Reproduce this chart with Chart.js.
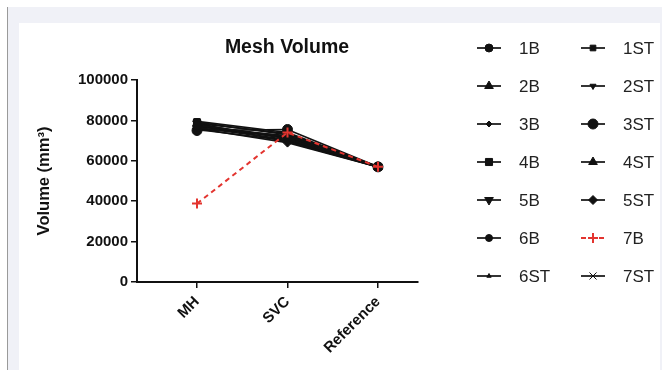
<!DOCTYPE html>
<html>
<head>
<meta charset="utf-8">
<script src="https://cdn.jsdelivr.net/npm/chart.js@4.4.1/dist/chart.umd.min.js"></script>
<style>
  body { margin: 0; background: #fff; }
  #wrap { position: relative; width: 662px; height: 370px; overflow: hidden; }
  #edge { position: absolute; left: 7px; top: 7px; width: 1px; height: 363px; background: #9a9a9a; }
  #grey { position: absolute; left: 8px; top: 7px; width: 654px; height: 363px; background: #f0f1f7; }
  #panel { position: absolute; left: 19px; top: 23px; width: 641px; height: 347px; background: #fff; }
  #chart { position: absolute; left: 0; top: 0; }
</style>
</head>
<body>
<div id="wrap">
  <div id="grey"></div>
  <div id="edge"></div>
  <div id="panel"></div>
  <canvas id="chart" width="662" height="370"></canvas>
</div>
<script>
// categories and ticks
var categories = ['MH', 'SVC', 'Reference'];
var yTicks = [0, 20000, 40000, 60000, 80000, 100000];

// mesh volume per series, in order MH, SVC, Reference
var v1B  = [77500, 72000, 57000];
var v2B  = [78000, 71000, 57000];
var v3B  = [76500, 70500, 57000];
var v4B  = [79000, 73000, 57000];
var v5B  = [78500, 69500, 57000];
var v6B  = [76000, 72500, 57000];
var v6ST = [75500, 70000, 57000];
var v1ST = [79500, 74000, 57000];
var v2ST = [77000, 71500, 57000];
var v3ST = [75000, 75500, 57000];
var v4ST = [78500, 73500, 57000];
var v5ST = [76000, 69000, 57000];
var v7B  = [38800, 74000, 57000];
var v7ST = [77000, 72000, 57000];

var seriesNames = ['1B', '2B', '3B', '4B', '5B', '6B', '6ST', '1ST', '2ST', '3ST', '4ST', '5ST', '7B', '7ST'];
var seriesValues = [v1B, v2B, v3B, v4B, v5B, v6B, v6ST, v1ST, v2ST, v3ST, v4ST, v5ST, v7B, v7ST];

// marker look for each series
var markers = [
	{ style: 'circle', r: 4 },
	{ style: 'triangle', r: 5 },
	{ style: 'rectRot', r: 3 },
	{ style: 'rect', r: 5 },
	{ style: 'triangle', r: 5, rot: 180 },
	{ style: 'circle', r: 3.5 },
	{ style: 'triangle', r: 2.5 },
	{ style: 'rect', r: 4 },
	{ style: 'triangle', r: 3.5, rot: 180 },
	{ style: 'circle', r: 5 },
	{ style: 'triangle', r: 5 },
	{ style: 'rectRot', r: 4.5 },
	{ style: 'cross', r: 5, red: true },
	{ style: 'crossRot', r: 5 }
];

var FONT = "'Liberation Sans', Arial, sans-serif";
var INK = '#111';
var RED = '#e3342f';

var datasets = seriesNames.map(function(name, i){
	var m = markers[i];
	var col = m.red ? RED : INK;
	return {
		label: name,
		data: seriesValues[i].map(function(v, j){ return { x: j, y: v }; }),
		borderColor: col,
		backgroundColor: col,
		borderWidth: m.red ? 2 : 1.7,
		borderDash: m.red ? [5, 4] : [],
		pointStyle: m.style,
		pointRadius: m.r,
		pointRotation: m.rot || 0,
		pointBorderWidth: m.red ? 2 : 1,
		order: m.red ? -1 : 0,
		tension: 0
	};
});

// title and two-column legend drawn next to the plot
var sidePlugin = {
	id: 'side',
	afterDraw: function(chart){
		var ctx = chart.ctx;
		ctx.save();
		ctx.fillStyle = INK;
		ctx.font = 'bold 19.5px ' + FONT;
		ctx.textAlign = 'center';
		ctx.textBaseline = 'middle';
		ctx.fillText('Mesh Volume', 287, 48);

		ctx.font = '17px ' + FONT;
		ctx.textAlign = 'left';
		chart.data.datasets.forEach(function(ds, i){
			var col = Math.floor(i / 7), row = i % 7;
			var cx = col ? 593 : 489;
			var cy = 48 + row * 38;
			ctx.strokeStyle = ds.borderColor;
			ctx.fillStyle = ds.backgroundColor;
			ctx.lineWidth = ds.borderWidth;
			ctx.setLineDash(ds.borderDash);
			ctx.beginPath();
			ctx.moveTo(cx - 12, cy);
			ctx.lineTo(cx + 12, cy);
			ctx.stroke();
			ctx.setLineDash([]);
			ctx.lineWidth = ds.pointBorderWidth;
			Chart.helpers.drawPoint(ctx, {
				pointStyle: ds.pointStyle,
				rotation: ds.pointRotation,
				radius: ds.pointRadius,
				borderWidth: ds.pointBorderWidth
			}, cx, cy);
			ctx.fillStyle = '#222';
			ctx.fillText(ds.label, cx + 30, cy + 1);
		});
		ctx.restore();
	}
};

var chart = new Chart(document.getElementById('chart'), {
	type: 'line',
	data: { datasets: datasets },
	plugins: [sidePlugin],
	options: {
		responsive: false,
		animation: false,
		devicePixelRatio: 1,
		layout: { padding: { left: 31, top: 80, right: 244, bottom: 0 } },
		plugins: {
			legend: { display: false },
			tooltip: { enabled: false }
		},
		scales: {
			x: {
				type: 'linear',
				min: -0.663,
				max: 2.442,
				afterBuildTicks: function(scale){
					scale.ticks = categories.map(function(c, i){ return { value: i }; });
				},
				afterFit: function(scale){ scale.height = 88; },
				grid: { drawOnChartArea: false, tickLength: 6, color: INK, lineWidth: 1.5 },
				border: { color: INK, width: 2 },
				ticks: {
					callback: function(v){ return categories[v]; },
					minRotation: 45,
					maxRotation: 45,
					padding: 5,
					color: INK,
					font: { family: FONT, size: 15, weight: 'bold' }
				}
			},
			y: {
				min: 0,
				max: 100000,
				afterBuildTicks: function(scale){
					scale.ticks = yTicks.map(function(v){ return { value: v }; });
				},
				afterFit: function(scale){ scale.width = 106; },
				grid: { drawOnChartArea: false, tickLength: 6, color: INK, lineWidth: 1.5 },
				border: { color: INK, width: 2 },
				ticks: {
					callback: function(v){ return String(v); },
					padding: 3,
					color: INK,
					font: { family: FONT, size: 15, weight: 'bold' }
				},
				title: {
					display: true,
					text: 'Volume (mm³)',
					color: INK,
					font: { family: FONT, size: 16.5, weight: 'bold' }
				}
			}
		}
	}
});
</script>
</body>
</html>
